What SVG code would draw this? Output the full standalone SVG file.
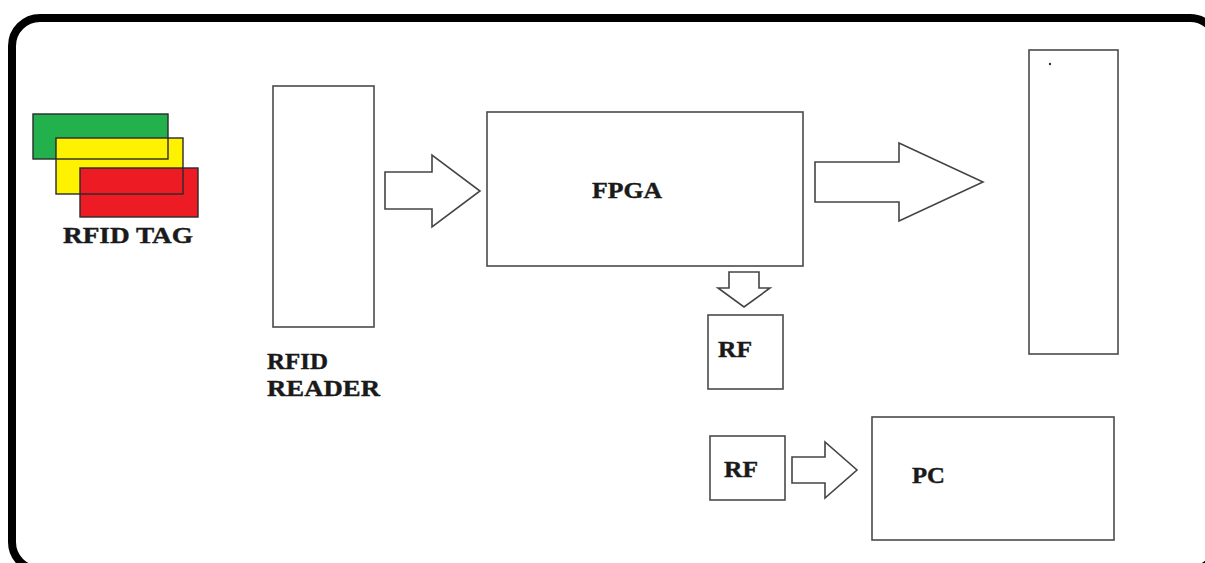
<svg xmlns="http://www.w3.org/2000/svg" width="1205" height="563" viewBox="0 0 1205 563">
<style>
.box{fill:#fff;stroke:#4a4a4a;stroke-width:1.6}
.arr{fill:#fff;stroke:#444;stroke-width:1.6;stroke-linejoin:miter}
.tag{stroke:#2a2a2a;stroke-width:1.4}
.lbl{font-family:"Liberation Serif","Times New Roman",serif;font-weight:bold;font-size:23px;fill:#1a1a1a;stroke:#1a1a1a;stroke-width:0.4}
</style>
<rect x="0" y="0" width="1205" height="563" fill="#fff"/>
<rect x="12" y="18" width="1206" height="552" rx="28" ry="28" fill="none" stroke="#000" stroke-width="8"/>
<g id="rfid-tag">
<rect x="33" y="114" width="135" height="45" fill="#22b14c"/>
<rect x="56" y="138" width="127" height="56" fill="#fff200"/>
<rect x="80" y="168" width="118" height="49" fill="#ed1c24"/>
<rect class="tag" x="33" y="114" width="135" height="45" fill="none"/>
<rect class="tag" x="56" y="138" width="127" height="56" fill="none"/>
<rect class="tag" x="80" y="168" width="118" height="49" fill="none"/>
<text class="lbl" x="63" y="243" textLength="130" lengthAdjust="spacingAndGlyphs">RFID TAG</text>
</g>
<g id="rfid-reader">
<rect class="box" x="273" y="86" width="101" height="241"/>
<text class="lbl" x="267" y="369" textLength="61" lengthAdjust="spacingAndGlyphs">RFID</text>
<text class="lbl" x="267" y="396" textLength="113" lengthAdjust="spacingAndGlyphs">READER</text>
</g>
<g id="fpga">
<rect class="box" x="487" y="112" width="316" height="154"/>
<text class="lbl" x="592" y="198" textLength="70" lengthAdjust="spacingAndGlyphs">FPGA</text>
</g>
<g id="display">
<rect class="box" x="1029" y="50" width="89" height="304"/>
<circle cx="1050" cy="64" r="1.2" fill="#333"/>
</g>
<g id="rf1">
<rect class="box" x="708" y="315" width="75" height="74"/>
<text class="lbl" x="718" y="357" textLength="34" lengthAdjust="spacingAndGlyphs">RF</text>
</g>
<g id="rf2">
<rect class="box" x="710" y="436" width="75" height="64"/>
<text class="lbl" x="724" y="477" textLength="34" lengthAdjust="spacingAndGlyphs">RF</text>
</g>
<g id="pc">
<rect class="box" x="872" y="417" width="242" height="123"/>
<text class="lbl" x="912" y="483" textLength="33" lengthAdjust="spacingAndGlyphs">PC</text>
</g>
<g id="connectors">
<polygon class="arr" points="385,172 432,172 432,155 480,191 432,227 432,209 385,209"/>
<polygon class="arr" points="815,162 899,162 899,143 983,182 899,221 899,202 815,202"/>
<polygon class="arr" points="729,272 759,272 759,288 770,288 744,307 718,288 729,288"/>
<polygon class="arr" points="792,457 825,457 825,442 857,470 825,498 825,483 792,483"/>
</g>
</svg>
